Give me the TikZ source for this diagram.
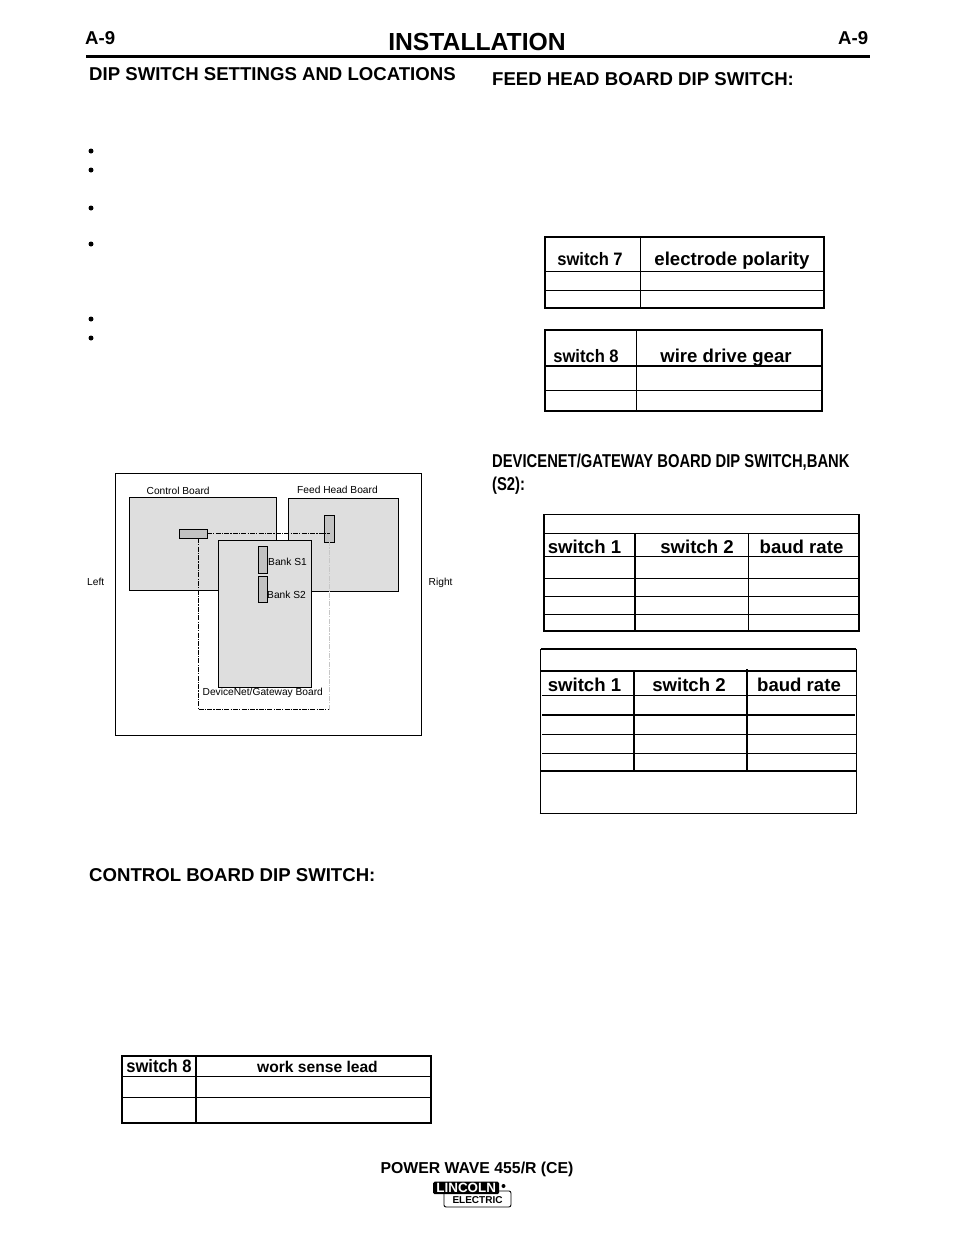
\documentclass[tikz,border=0pt]{standalone}
\usepackage{fontspec}
\setmainfont{Liberation Sans}
\newfontfamily\condfont[FakeStretch=0.795]{Liberation Sans}
\newfontfamily\semicond[FakeStretch=0.92]{Liberation Sans}
\usetikzlibrary{positioning}
\definecolor{boardgray}{gray}{0.87}
\definecolor{switchgray}{gray}{0.76}
\tikzset{
  thinrule/.style={line width=0.8pt},
  thickrule/.style={line width=1.4pt},
  boxnode/.style={draw=black,line width=0.8pt,anchor=north west,inner sep=0pt,outer sep=0pt},
  board/.style={boxnode,fill=boardgray},
  dipswitch/.style={boxnode,fill=switchgray},
  smalllabel/.style={font=\fontsize{10.2}{11}\selectfont,inner sep=0pt},
  heading/.style={font=\bfseries\fontsize{18.6}{22}\selectfont,inner sep=0pt,anchor=base west},
  cellhead/.style={font=\bfseries\fontsize{18.6}{20}\selectfont,inner sep=0pt,anchor=base},
  cellsmall/.style={font=\semicond\bfseries\fontsize{18}{20}\selectfont,inner sep=0pt,anchor=base},
  bulletmark/.style={circle,fill=black,inner sep=0pt,minimum size=5pt},
  linkline/.style={line width=1pt,dash pattern=on 5pt off 1.2pt on 1.2pt off 1.2pt},
}
\newcommand{\boxat}[6]{\node[#1,minimum width=#4pt,minimum height=#5pt] (#6) at (#2,#3) {};}
\begin{document}
\begin{tikzpicture}[x=1pt,y=-1pt]
\useasboundingbox (0,0) rectangle (954,1235);
% header
\node[font=\bfseries\fontsize{24.7}{28}\selectfont,inner sep=0pt,anchor=base] (title) at (477,50) {INSTALLATION};
\node[heading] (pl) at (85,44) {A-9};
\node[heading] (pr) at (838,44) {A-9};
\coordinate (ruleL) at (86,56.5);
\coordinate (ruleR) at (870,56.5);
\draw[line width=2.6pt] (ruleL) -- (ruleR);
\node[heading] (h1) at (89,80) {DIP SWITCH SETTINGS AND LOCATIONS};
\node[heading] (h2) at (492,85) {FEED HEAD BOARD DIP SWITCH:};
\node[heading] (h3) at (89,881) {CONTROL BOARD DIP SWITCH:};
\node[font=\condfont\bfseries\fontsize{18.6}{22}\selectfont,inner sep=0pt,anchor=base west] (h4a) at (492,467) {DEVICENET/GATEWAY BOARD DIP SWITCH,BANK};
\node[font=\condfont\bfseries\fontsize{18.6}{22}\selectfont,inner sep=0pt,anchor=base west] (h4b) at (492,490) {(S2):};
% bullets
\node[bulletmark] (b1) at (91,151) {};
\node[bulletmark] (b2) at (91,170) {};
\node[bulletmark] (b3) at (91,208) {};
\node[bulletmark] (b4) at (91,244) {};
\node[bulletmark] (b5) at (91,319) {};
\node[bulletmark] (b6) at (91,338) {};
% location diagram
\boxat{boxnode}{115.5}{473.5}{306}{262}{frame}
\boxat{board}{129}{497.5}{147.5}{93}{control}
\boxat{board}{288.5}{498.5}{110}{92.5}{feed}
\coordinate (jbl) at (198,538);
\coordinate (jbb) at (198,709.5);
\coordinate (jbr) at (329.5,709.5);
\coordinate (jtr) at (329.5,534);
\boxat{dipswitch}{179.5}{529.5}{27.5}{8.5}{swcontrol}
\boxat{dipswitch}{324.5}{515.5}{10}{26.5}{swfeed}
\draw[linkline] (swcontrol.east) -- (swfeed.center |- swcontrol.east);
\draw[linkline] (jbl) -- (jbb) -- (jbr);
\draw[linkline,draw=black!22] (jbr) -- (jtr);
\boxat{board}{218.5}{540.5}{93}{146.5}{devnet}
\boxat{dipswitch}{258.5}{546.5}{8.5}{26.5}{bs1}
\boxat{dipswitch}{258.5}{576.5}{8.5}{25.5}{bs2}
\node[smalllabel,anchor=base west] (lc) at (146.5,494) {Control Board};
\node[smalllabel,anchor=base west] (lf) at (297,493) {Feed Head Board};
\node[smalllabel,anchor=base west] (l1) at (268,565) {Bank S1};
\node[smalllabel,anchor=base west] (l2) at (267,598) {Bank S2};
\node[smalllabel,anchor=base west] (ld) at (202.5,695) {DeviceNet/Gateway Board};
\node[smalllabel,anchor=base west] (ll) at (87,585) {Left};
\node[smalllabel,anchor=base west] (lr) at (428.5,585) {Right};
% table: switch 7
\draw[thickrule] (545,237) rectangle (824,308);
\draw[thinrule] (640,237) -- (640,308) (545,271) -- (824,271);
\draw[thickrule] (545,290.5) -- (824,290.5);
\node[cellsmall] (t1a) at (590,265) {switch 7};
\node[cellhead] (t1b) at (732,265) {electrode polarity};
% table: switch 8 wire drive
\draw[thickrule] (545,330) rectangle (822,411);
\draw[thinrule] (636.5,330) -- (636.5,411) (545,390) -- (822,390);
\draw[thickrule] (545,366) -- (822,366);
\node[cellsmall] (t2a) at (586,362) {switch 8};
\node[cellhead] (t2b) at (726,362) {wire drive gear};
% table: baud 1
\draw[thickrule] (544,514.5) rectangle (859,631);
\draw[thinrule] (544,533.5) -- (859,533.5) (544,556) -- (859,556) (544,578.5) -- (859,578.5) (544,596.5) -- (859,596.5) (544,614.5) -- (859,614.5) (748.5,533.5) -- (748.5,631);
\draw[thickrule] (635,533.5) -- (635,631);
\node[cellhead] (t3a) at (584.5,553) {switch 1};
\node[cellhead] (t3b) at (697,553) {switch 2};
\node[cellhead] (t3c) at (801.5,553) {baud rate};
% table: baud 2
\draw[thinrule] (540.5,649) -- (540.5,813.5) (856,649) -- (856,813.5) (539.5,813.5) -- (856,813.5);
\draw[thickrule] (540.5,649) -- (856,649) (540.5,671) -- (856,671) (542,715) -- (855,715) (540.5,771) -- (856,771);
\draw[thinrule] (542,695.5) -- (856,695.5) (542,734.5) -- (856,734.5) (542,753.5) -- (856,753.5);
\draw[thickrule] (634,671) -- (634,771) (747,669) -- (747,771);
\node[cellhead] (t4a) at (584.5,691) {switch 1};
\node[cellhead] (t4b) at (689,691) {switch 2};
\node[cellhead] (t4c) at (799,691) {baud rate};
% table: work sense lead
\draw[thickrule] (122,1056) rectangle (431,1123);
\draw[thinrule] (122,1076.5) -- (431,1076.5) (122,1097.5) -- (431,1097.5);
\draw[thickrule] (196,1056) -- (196,1123);
\node[cellsmall] (t5a) at (159,1072) {switch 8};
\node[font=\bfseries\fontsize{15.6}{18}\selectfont,inner sep=0pt,anchor=base] (t5b) at (317.5,1072) {work sense lead};
% footer
\node[font=\bfseries\fontsize{15.8}{18}\selectfont,inner sep=0pt,anchor=base] (foot) at (477,1173) {POWER WAVE 455/R (CE)};
\node[draw=black,line width=0.9pt,rounded corners=2pt,fill=white,minimum width=67pt,minimum height=16pt,inner sep=0pt,anchor=north west] (elec) at (443.5,1190.5) {};
\node[fill=black,rounded corners=1.5pt,minimum width=66pt,minimum height=12.5pt,inner sep=0pt,anchor=north west,text=white,font=\bfseries\fontsize{13.4}{14}\selectfont] (linc) at (433,1181.5) {LINCOLN};
\node[font=\bfseries\fontsize{10}{11}\selectfont,inner sep=0pt,anchor=base] (elect) at (477.5,1203.5) {ELECTRIC};
\node[circle,fill=black,inner sep=0pt,minimum size=4pt] (reg) at (503.5,1186) {};
\end{tikzpicture}
\end{document}
